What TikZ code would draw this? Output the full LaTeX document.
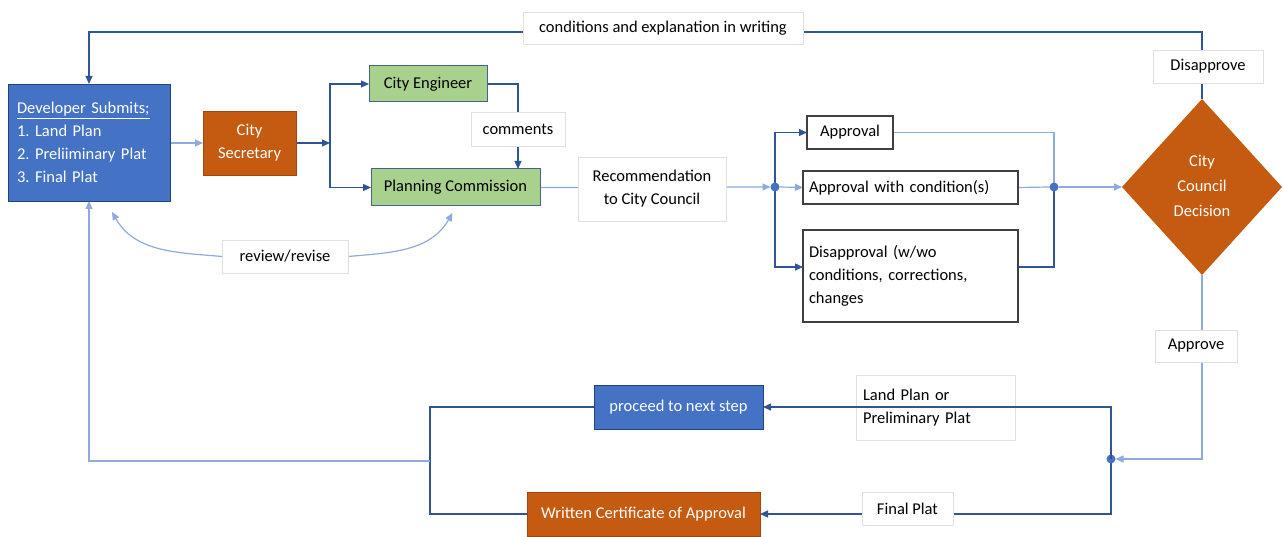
\documentclass[tikz,border=0pt]{standalone}
\usepackage{fontspec}
\setmainfont{Carlito}
\usetikzlibrary{arrows.meta,shapes.geometric,calc}
\pgfdeclarelayer{background}
\pgfsetlayers{background,main}
\definecolor{dk}{HTML}{2F5597}
\definecolor{lt}{HTML}{8FAADC}
\definecolor{bl}{HTML}{4472C4}
\definecolor{org}{HTML}{C55A11}
\definecolor{grn}{HTML}{A9D18E}
\frenchspacing
\begin{document}
\begin{tikzpicture}[x=1pt,y=-1pt,
  font=\fontsize{16.5}{23}\selectfont,
  every node/.style={inner sep=0pt, outer sep=0pt},
  bluebox/.style={draw=dk!80!black, line width=0.8pt, fill=bl, text=white, align=center},
  orgbox/.style={draw=org!80!black, line width=0.8pt, fill=org, text=white, align=center},
  grnbox/.style={draw=dk!70!gray, line width=1pt, fill=grn, text=black, align=center},
  wbox/.style={draw=black!75, line width=1.3pt, fill=white, text=black},
  lbl/.style={draw=black!12, line width=0.6pt, fill=white, text=black, align=center},
  conn/.style={draw=dk, line width=1.2pt},
  lconn/.style={draw=lt, line width=1.2pt},
  tip/.style={-{Triangle[length=8pt,width=7pt]}},
  dot/.style={circle, fill=bl, minimum size=9pt}
]
\useasboundingbox (0,0) rectangle (1283,537);

% nodes
\node[bluebox, minimum width=162, minimum height=117, text width=144, align=left] (dev) at (89,142.5)
  {\underline{Developer Submits;}\\1. Land Plan\\2. Preliiminary Plat\\3. Final Plat};
\node[orgbox, minimum width=93, minimum height=64] (sec) at (249.5,143) {City\\Secretary};
\node[grnbox, minimum width=118, minimum height=36] (ce) at (428,84) {City Engineer};
\node[grnbox, minimum width=169, minimum height=37] (pc) at (455.5,187.5) {Planning Commission};
\node[lbl, minimum width=94, minimum height=34] (cm) at (518,129) {comments};
\node[lbl, minimum width=148, minimum height=64] (rec) at (652,189) {Recommendation\\to City Council};
\node[wbox, minimum width=86, minimum height=33] (ap) at (850,132.5) {Approval};
\node[wbox, minimum width=215, minimum height=33, text width=203, align=left] (awc) at (910.5,187.5) {Approval with condition(s)};
\node[wbox, minimum width=215, minimum height=92, text width=203, align=left] (dis) at (910.5,276)
  {Disapproval (w/wo\\conditions, corrections,\\changes};
\node[dot] (d1) at (775,187) {};
\node[dot] (d2) at (1054,187) {};
\node[diamond, fill=org, minimum width=160, minimum height=176] (dec) at (1202,187) {};
\node[text=white, align=center, font=\fontsize{16.5}{25}\selectfont] (dect) at (1202,186) {City\\Council\\Decision};
\node[lbl, minimum width=110, minimum height=33] (dap) at (1208,66.5) {Disapprove};
\node[lbl, minimum width=280, minimum height=32] (cond) at (663,28) {conditions and explanation in writing};
\node[lbl, minimum width=82, minimum height=32] (apv) at (1196,346) {Approve};
\node[dot] (d3) at (1111,459) {};
\node[lbl, minimum width=159, minimum height=65, text width=145, align=left] (lpp) at (935.5,407.5) {Land Plan or\\Preliminary Plat};
\node[bluebox, minimum width=169, minimum height=44] (pn) at (678.5,407) {proceed to next step};
\node[orgbox, minimum width=233, minimum height=44] (cert) at (643.5,514) {Written Certificate of Approval};
\node[lbl, minimum width=91, minimum height=33] (fp) at (907.5,508.5) {Final Plat};
\node[lbl, minimum width=126, minimum height=33] (rr) at (285,256.5) {review/revise};
\coordinate (sp) at (330,143);
\coordinate (lb) at (430,461);

\begin{pgfonlayer}{background}
% top feedback
\draw[conn,tip] (dec.north) -- ++(0,-67) -| (dev.north);
% developer -> secretary
\draw[lconn,tip] (dev.east |- sec.west) -- (sec.west);
\draw[conn,tip] (sec.east) -- (sp);
\draw[conn,tip] (sp) |- (ce.west);
\draw[conn,tip] (sp) |- (pc.west);
% engineer -> commission
\draw[conn,tip] (ce.east) -| (cm.center |- pc.north);
% commission -> dot
\draw[lconn,tip] (pc.east) -- (d1.west);
\draw[conn,tip] (d1.center) |- (ap.west);
\draw[lconn,tip] (d1.east) -- (awc.west);
\draw[conn,tip] (d1.center) |- ($(dis.west)+(0,-9)$);
\draw[lconn] (ap.east) -| (d2.center);
\draw[lconn] (awc.east) -- (d2.west);
\draw[conn] ($(dis.east)+(0,-9)$) -| (d2.center);
\draw[lconn,tip] (d2.east) -- (dec.west);
% approve
\draw[lconn,tip] (dec.south) |- (d3.east);
\draw[conn,tip] (d3.center) |- (cert.east);
% bottom left
\draw[conn] (pn.west) -| (lb) |- (cert.west);
\draw[lconn,tip] (lb) -| (dev.south);
% review/revise
\draw[lconn,tip] (rr.west) to[out=175,in=-60] ($(dev.south)+(23,11)$);
\draw[lconn,tip] (rr.east) to[out=5,in=-120] ($(pc.south)+(-3,7)$);
\end{pgfonlayer}
\draw[conn,tip] (d3.center) |- (pn.east);
\end{tikzpicture}
\end{document}
